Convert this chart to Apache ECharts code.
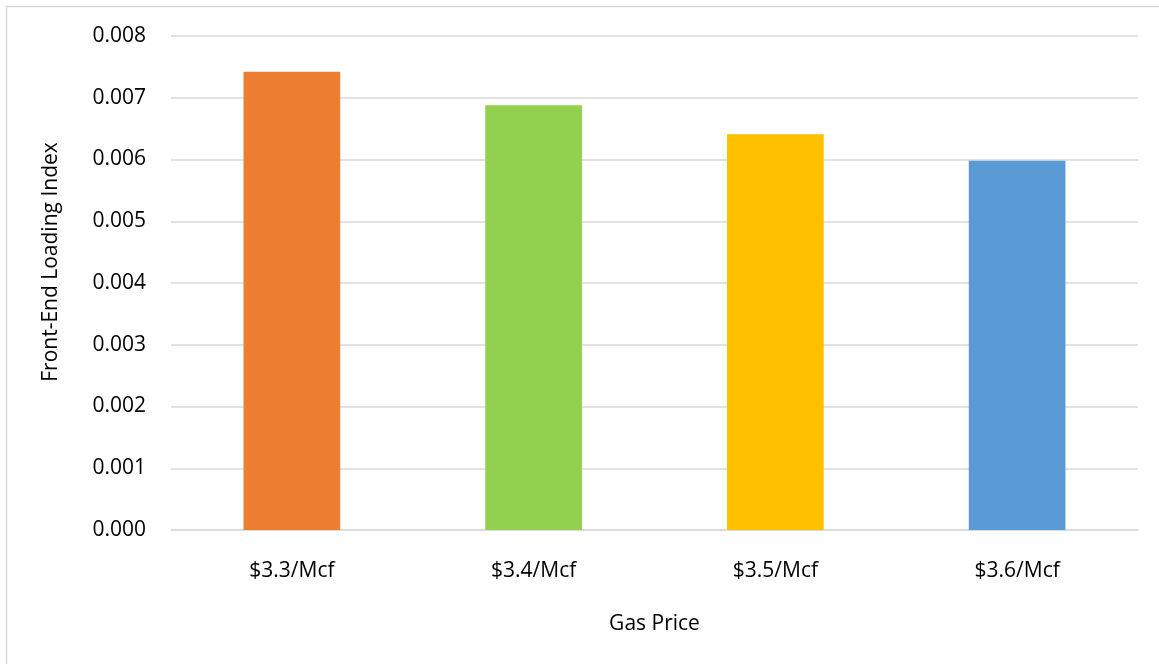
<!DOCTYPE html>
<html>
<head>
<meta charset="utf-8">
<script src="https://cdn.jsdelivr.net/npm/echarts@6/dist/echarts.min.js"></script>
<style>
  html, body { margin: 0; padding: 0; background: #fff; }
  #chartmain { width: 1159px; height: 664px; }
</style>
</head>
<body>
<div id="chartmain"></div>
<script>
var categories = ['$3.3/Mcf', '$3.4/Mcf', '$3.5/Mcf', '$3.6/Mcf'];
var loadingIndex = [0.00742, 0.00688, 0.00641, 0.00598];
var barColors = ['#ED7D31', '#92D050', '#FFC000', '#5B9BD5'];
var yTicks = [0, 0.001, 0.002, 0.003, 0.004, 0.005, 0.006, 0.007, 0.008];

var font = '"Open Sans", "Noto Sans", sans-serif';

var option = {
	animation : false,
	backgroundColor : '#fff',
	graphic : [ {
		type : 'rect',
		shape : { x : 6.5, y : 6.5, width : 1160, height : 670 },
		style : { fill : 'none', stroke : '#d9d9d9', lineWidth : 1.5 },
		silent : true
	} ],
	grid : {
		left : 171,
		right : 21,
		top : 36,
		bottom : 134
	},
	xAxis : {
		type : 'category',
		data : categories,
		name : 'Gas Price',
		nameLocation : 'middle',
		nameGap : 84,
		nameTextStyle : { fontFamily : font, fontSize : 21, color : '#000' },
		axisLine : { show : true, lineStyle : { color : '#d9d9d9', width : 1.5 } },
		axisTick : { show : false },
		axisLabel : { fontFamily : font, fontSize : 21, color : '#000', margin : 31 }
	},
	yAxis : {
		type : 'value',
		min : 0,
		max : 0.008,
		interval : 0.001,
		name : 'Front-End Loading Index',
		nameLocation : 'middle',
		nameGap : 109,
		nameTextStyle : { fontFamily : font, fontSize : 21, color : '#000', padding : [0, 0, 0, 42] },
		axisLine : { show : false },
		axisTick : { show : false },
		splitLine : { lineStyle : { color : '#d9d9d9', width : 1.5 } },
		axisLabel : {
			fontFamily : font,
			fontSize : 21,
			color : '#000',
			margin : 25,
			formatter : function(v) { return v.toFixed(3); }
		}
	},
	series : [ {
		type : 'bar',
		barWidth : '40%',
		data : loadingIndex.map(function(v, i) {
			return { value : v, itemStyle : { color : barColors[i] } };
		})
	} ]
};

var myChart = echarts.init(document.getElementById('chartmain'));
myChart.setOption(option);
</script>
</body>
</html>
